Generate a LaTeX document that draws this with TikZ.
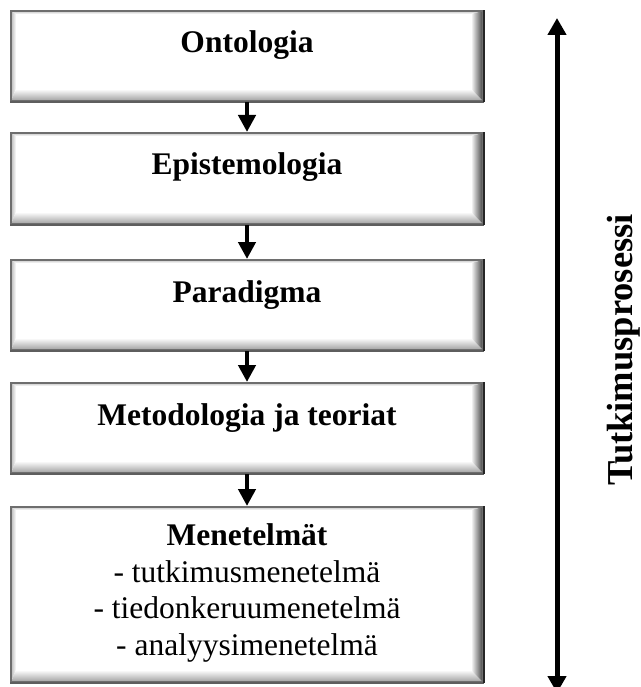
\documentclass[tikz,border=0pt]{standalone}
\usepackage{fontspec}
\setmainfont{Liberation Serif}
\usetikzlibrary{arrows.meta,calc}

\definecolor{edgegray}{HTML}{6E6E6E}
\definecolor{edgedark}{HTML}{262626}

\tikzset{
  stage/.style={rectangle, minimum width=472pt, inner sep=0pt, fill=white,
    draw=edgegray, line width=2pt,
    path picture={
      \coordinate (sw) at (path picture bounding box.south west);
      \coordinate (ne) at (path picture bounding box.north east);
      \coordinate (nw) at (sw|-ne);
      \coordinate (se) at (ne|-sw);
      % left bevel
      \shade[left color=gray!55, right color=white]
        (sw) -- (nw) -- ($(nw)+(5pt,-3pt)$) -- ($(sw)+(5pt,12pt)$) -- cycle;
      % top bevel
      \shade[top color=gray!45, bottom color=white]
        (nw) -- (ne) -- ($(ne)+(-12pt,-3pt)$) -- ($(nw)+(5pt,-3pt)$) -- cycle;
      % bottom bevel
      \shade[top color=white, bottom color=gray!75]
        (sw) -- (se) -- ($(se)+(-12pt,12pt)$) -- ($(sw)+(5pt,12pt)$) -- cycle;
      % right bevel
      \shade[left color=white, right color=black!75]
        (se) -- (ne) -- ($(ne)+(-12pt,-3pt)$) -- ($(se)+(-12pt,12pt)$) -- cycle;
    }},
  title/.style={font=\bfseries\fontsize{31.5}{36}\selectfont, anchor=base, inner sep=0pt},
  item/.style={font=\fontsize{31.5}{36}\selectfont, anchor=base, inner sep=0pt},
  side/.style={font=\bfseries\fontsize{36.5}{40}\selectfont, anchor=base, inner sep=0pt, rotate=90},
  flow/.style={-{Triangle[width=17pt,length=17pt]}, line width=4.5pt},
  span/.style={{Triangle[width=18pt,length=17pt]}-{Triangle[width=18pt,length=17pt]}, line width=5pt},
}

\begin{document}
\begin{tikzpicture}[x=1pt, y=-1pt]
  \clip (0,0) rectangle (640,687);
  \fill[white] (0,0) rectangle (640,687);

  % stage boxes
  \node[stage, minimum height=90pt]  (b1) at (247,56)    {};
  \node[stage, minimum height=91pt]  (b2) at (247,178.5) {};
  \node[stage, minimum height=90pt]  (b3) at (247,305)   {};
  \node[stage, minimum height=90pt]  (b4) at (247,428)   {};
  \node[stage, minimum height=175pt] (b5) at (247,594.5) {};

  % darker right and bottom edges
  \foreach \b in {b1,b2,b3,b4,b5}{
    \draw[edgegray!85!black, line width=2pt] (\b.south west) -- (\b.south east);
    \draw[edgedark, line width=2pt] (\b.south east) -- (\b.north east);
  }

  % labels
  \node[title] (t1) at (247,53)  {Ontologia};
  \node[title] (t2) at (247,175) {Epistemologia};
  \node[title] (t3) at (247,302) {Paradigma};
  \node[title] (t4) at (247,425) {Metodologia ja teoriat};
  \node[title] (t5) at (247,545) {Menetelmät};
  \node[item]  (m1) at (247,582) {- tutkimusmenetelmä};
  \node[item]  (m2) at (247,618) {- tiedonkeruumenetelmä};
  \node[item]  (m3) at (247,655) {- analyysimenetelmä};

  % connectors between stages
  \draw[flow] (b1.south) -- (b2.north);
  \draw[flow] (b2.south) -- (b3.north);
  \draw[flow] (b3.south) -- (b4.north);
  \draw[flow] (b4.south) -- (b5.north);

  % process span
  \coordinate (pt) at (557,18);
  \coordinate (pb) at (557,693);
  \draw[span] (pb) -- (pt);
  \node[side] (proc) at (632,350) {Tutkimusprosessi};
\end{tikzpicture}
\end{document}
